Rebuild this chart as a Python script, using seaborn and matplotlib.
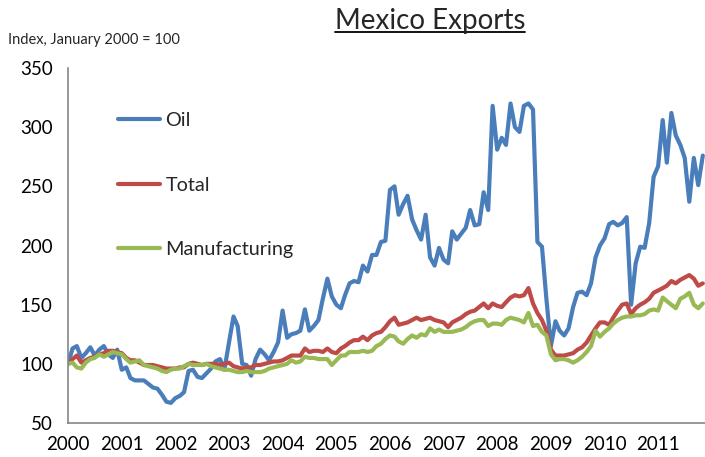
import matplotlib
matplotlib.use("Agg")
import matplotlib.pyplot as plt
from matplotlib.lines import Line2D
import seaborn as sns
import pandas as pd

# monthly index values, Jan 2000 .. Nov 2011
oil = [100, 113, 115, 105, 109, 114, 107, 112, 115, 108, 105, 112,
       95, 97, 88, 86, 86, 86, 83, 80, 79, 74, 68, 67,
       71, 73, 76, 94, 95, 89, 88, 92, 96, 102, 104, 95,
       118, 140, 132, 100, 99, 90, 104, 112, 108, 103, 110, 118,
       145, 122, 125, 126, 128, 146, 128, 132, 137, 155, 172, 157,
       150, 147, 158, 168, 170, 169, 183, 178, 192, 192, 203, 204,
       247, 250, 226, 235, 242, 222, 213, 205, 226, 190, 183, 198,
       188, 185, 212, 205, 210, 215, 230, 217, 218, 245, 230, 318,
       281, 291, 285, 320, 300, 296, 318, 320, 315, 203, 199, 155,
       115, 136, 128, 124, 130, 148, 160, 161, 158, 168, 190, 200,
       206, 218, 220, 217, 219, 224, 150, 185, 199, 198, 219, 258,
       267, 306, 270, 312, 293, 285, 274, 237, 274, 251, 276]
total = [100, 104, 107, 101, 103, 105, 106, 108, 109, 111, 111, 110,
         109, 105, 103, 103, 101, 99, 99, 99, 98, 97, 96, 96,
         96, 97, 97, 100, 101, 100, 99, 100, 100, 100, 99, 100,
         101, 98, 97, 96, 97, 97, 99, 99, 100, 101, 102, 102,
         103, 105, 107, 107, 107, 113, 110, 111, 111, 110, 113, 110,
         109, 113, 115, 118, 120, 120, 123, 120, 124, 126, 127, 131,
         136, 139, 133, 134, 135, 137, 139, 137, 138, 139, 137, 136,
         135, 131, 135, 137, 139, 142, 144, 145, 148, 151, 147, 151,
         149, 148, 152, 156, 158, 157, 158, 164, 151, 143, 137, 128,
         112, 107, 107, 107, 108, 109, 112, 114, 118, 124, 130, 135,
         135, 133, 139, 145, 150, 151, 142, 147, 150, 152, 155, 160,
         162, 164, 166, 170, 168, 171, 173, 175, 172, 166, 168]
manufacturing = [100, 101, 97, 96, 101, 104, 105, 108, 106, 108, 110, 109,
                 108, 104, 101, 102, 103, 99, 98, 97, 96, 94, 93, 95,
                 96, 96, 98, 100, 99, 99, 99, 100, 98, 97, 96, 95,
                 95, 94, 93, 93, 94, 93, 93, 93, 94, 96, 97, 98,
                 99, 100, 103, 101, 102, 106, 105, 105, 104, 104, 104, 99,
                 103, 107, 107, 110, 110, 110, 111, 110, 111, 115, 117, 121,
                 124, 123, 119, 117, 121, 124, 122, 125, 124, 130, 127, 129,
                 127, 127, 127, 128, 129, 131, 134, 136, 137, 137, 132, 134,
                 134, 133, 137, 139, 138, 137, 135, 143, 132, 133, 127, 124,
                 108, 103, 104, 104, 103, 101, 103, 106, 110, 115, 128, 123,
                 127, 130, 134, 137, 139, 140, 140, 141, 141, 142, 145, 146,
                 145, 156, 153, 150, 147, 155, 157, 160, 150, 147, 151]
series_names = ["Oil", "Total", "Manufacturing"]
colors = ["#4A7EBB", "#BE4B48", "#98B954"]
years = list(range(2000, 2012))

dates = pd.date_range("2000-01-01", periods=len(oil), freq="MS")

sns.set_style("white")
plt.rcParams["font.family"] = ["Lato", "DejaVu Sans"]

fig = plt.figure(figsize=(7.05, 4.57), dpi=100)
ax = fig.add_axes([68 / 705, 1 - 423 / 457, 637 / 705, 355 / 457])

for name, vals, c in zip(series_names, [oil, total, manufacturing], colors):
    sns.lineplot(x=dates, y=vals, color=c, linewidth=3, label=name, ax=ax)

ax.set_ylim(50, 350)
ax.set_yticks(range(50, 351, 50))
ax.set_xlim(pd.Timestamp("2000-01-01"), pd.Timestamp("2011-11-16"))
ax.set_xticks([pd.Timestamp(f"{y}-01-01") for y in years])
ax.set_xticklabels([str(y) for y in years])
ax.set_xlabel("")
ax.set_ylabel("")

for s in ["top", "right"]:
    ax.spines[s].set_visible(False)
for s in ["left", "bottom"]:
    ax.spines[s].set_color("#868686")
    ax.spines[s].set_linewidth(1.2)
ax.tick_params(axis="both", direction="out", length=5, width=1.2,
               color="#868686", labelsize=13.5, labelcolor="black", pad=4)
ax.tick_params(axis="y", pad=6)

ax.legend(loc="upper left", bbox_to_anchor=(0.078, 0.875), frameon=False,
          fontsize=14.3, labelspacing=2.38, handlelength=2.15, handletextpad=0.25,
          borderpad=0, borderaxespad=0)

title = fig.text(430 / 705, 1 - 21 / 457, "Mexico Exports", fontsize=20,
                 ha="center", va="center")
fig.text(8 / 705, 1 - 40 / 457, "Index, January 2000 = 100", fontsize=10.5,
         ha="left", va="center")

# underline the title like the original
fig.canvas.draw()
bb = title.get_window_extent().transformed(fig.transFigure.inverted())
fig.add_artist(Line2D([bb.x0, bb.x1], [bb.y0 + 0.004, bb.y0 + 0.004],
                      transform=fig.transFigure, color="black", linewidth=1.3))

fig.savefig("out.png", dpi=100)
